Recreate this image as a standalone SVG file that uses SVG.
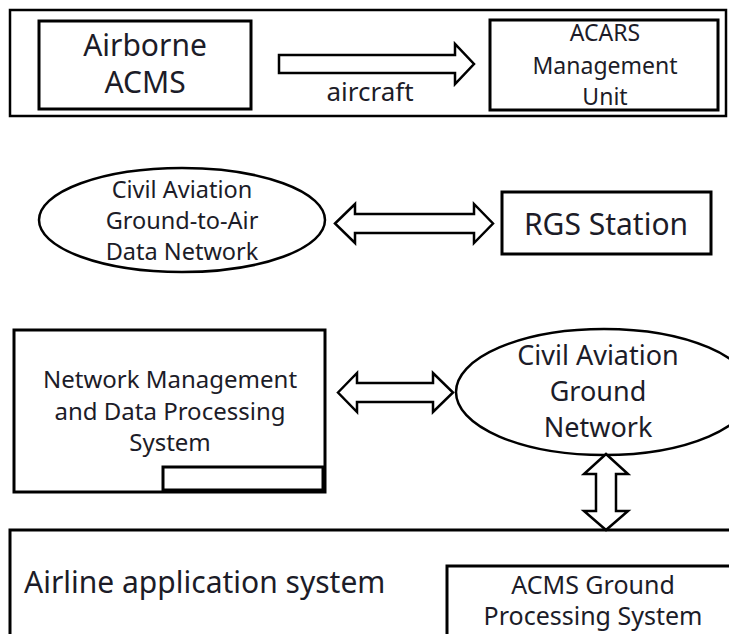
<svg xmlns="http://www.w3.org/2000/svg" width="729" height="634" viewBox="0 0 729 634">
<style>
.box{fill:#fff;stroke:#000;stroke-width:3}
.frame{fill:none;stroke:#000;stroke-width:2.5}
.ell{fill:#fff;stroke:#000;stroke-width:2.5}
.arr{fill:#fff;stroke:#000;stroke-width:2.5;stroke-linejoin:miter}
text{font-family:"Noto Sans","Open Sans","DejaVu Sans",sans-serif;fill:#1c1c28;text-anchor:middle}
</style>
<rect width="729" height="634" fill="#fff"/>
<g id="aircraft-frame">
<rect class="frame" x="10" y="10" width="716" height="106"/>
</g>
<g id="airborne-acms">
<rect class="box" x="39" y="21" width="212" height="88"/>
<text x="145" y="56" font-size="30">Airborne</text>
<text x="145" y="93" font-size="30">ACMS</text>
</g>
<g id="acars-mu">
<rect class="box" x="490" y="20" width="228" height="90"/>
<text x="605" y="41" font-size="23">ACARS</text>
<text x="605" y="74" font-size="23">Management</text>
<text x="605" y="105" font-size="23">Unit</text>
</g>
<g id="gta-network">
<ellipse class="ell" cx="182" cy="220" rx="143" ry="52"/>
<text x="182" y="198" font-size="23.5">Civil Aviation</text>
<text x="182" y="229" font-size="23.5">Ground-to-Air</text>
<text x="182" y="260" font-size="23.5">Data Network</text>
</g>
<g id="rgs-station">
<rect class="box" x="502" y="192" width="209" height="62"/>
<text x="606" y="235" font-size="30">RGS Station</text>
</g>
<g id="nmdps">
<rect class="box" x="14" y="330" width="311" height="162"/>
<rect class="box" x="163" y="467" width="160" height="23"/>
<text x="170" y="388" font-size="24">Network Management</text>
<text x="170" y="420" font-size="24">and Data Processing</text>
<text x="170" y="451" font-size="24">System</text>
</g>
<g id="ground-network">
<ellipse class="ell" cx="604" cy="392" rx="148" ry="63"/>
<text x="598" y="365" font-size="27">Civil Aviation</text>
<text x="598" y="401" font-size="27">Ground</text>
<text x="598" y="437" font-size="27">Network</text>
</g>
<g id="airline-system">
<rect class="box" x="10" y="530" width="740" height="120"/>
<text x="24" y="593" font-size="30" style="text-anchor:start">Airline application system</text>
</g>
<g id="acms-ground">
<rect class="box" x="447" y="566" width="300" height="100"/>
<text x="593" y="594" font-size="25">ACMS Ground</text>
<text x="593" y="625" font-size="25">Processing System</text>
</g>
<g id="connectors">
<polygon class="arr" points="279,55 455,55 455,44 474,64 455,84 455,73 279,73"/>
<text x="370" y="101" font-size="26">aircraft</text>
<polygon class="arr" points="335,223.5 355,204 355,214 474,214 474,204 493,223.5 474,243 474,233 355,233 355,243"/>
<polygon class="arr" points="338,392.5 357,373 357,383 433,383 433,373 453,392.5 433,412 433,402 357,402 357,412"/>
<polygon class="arr" points="606,454 628,474 616,474 616,511 628,511 606,530 584,511 596,511 596,474 584,474"/>
</g>
</svg>
